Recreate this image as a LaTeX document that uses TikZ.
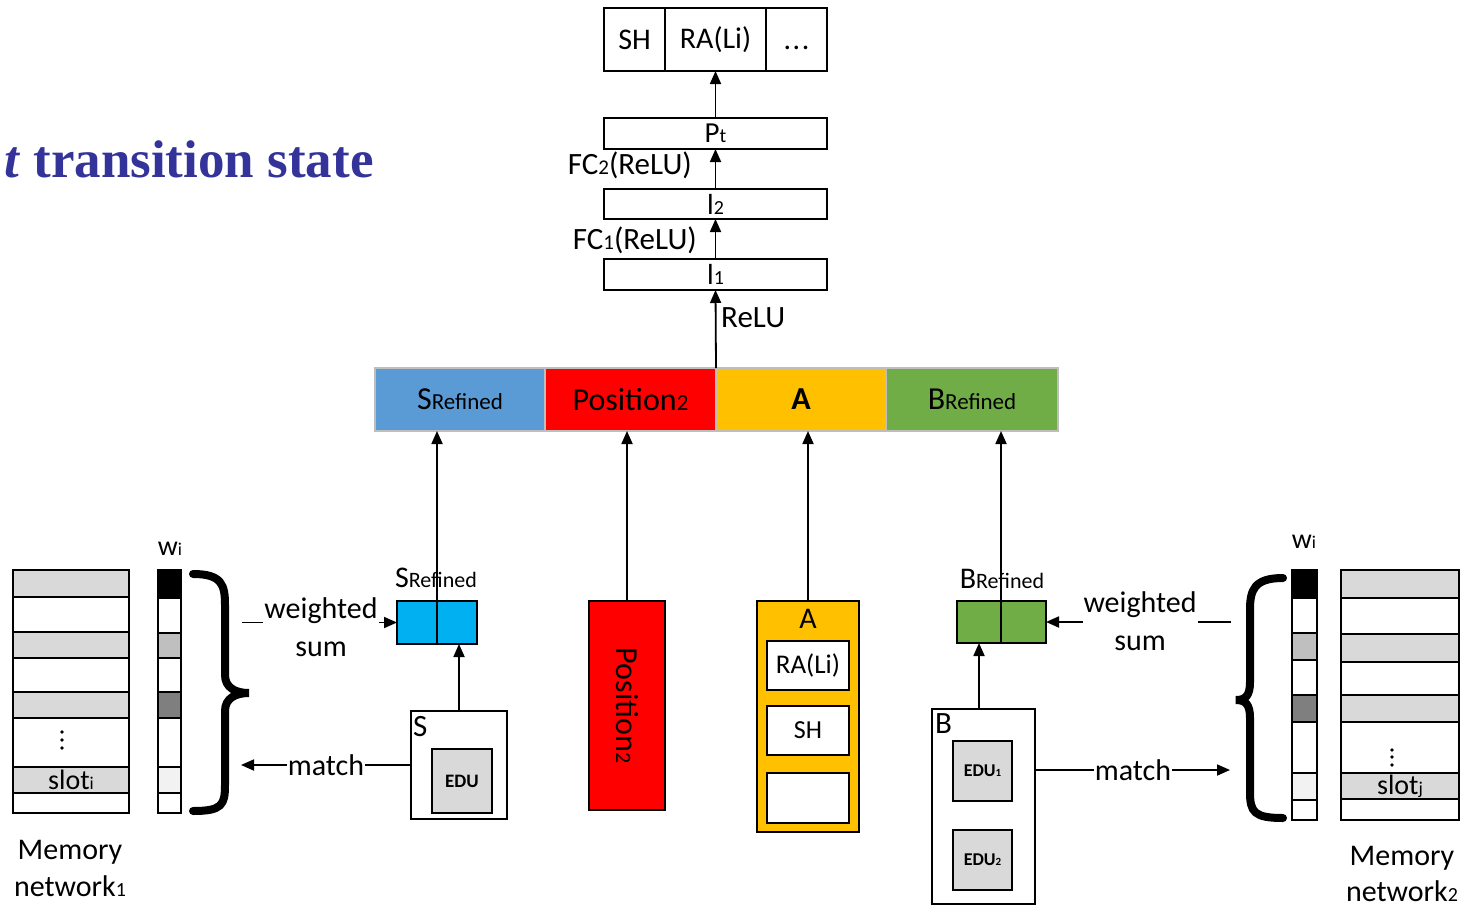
\documentclass[tikz,border=0pt]{standalone}
\usepackage{fontspec}
\setmainfont{Carlito}
\newfontfamily\titlefont{Liberation Serif}
\usetikzlibrary{arrows.meta}

% smaller text set on the same baseline (used for index-like parts of labels)
\newcommand\lowtxt[2][20]{{\fontsize{#1}{#1}\selectfont #2}}

\definecolor{titleblue}{RGB}{51,51,153}
\definecolor{segblue}{RGB}{91,155,213}
\definecolor{segred}{RGB}{255,0,0}
\definecolor{segorange}{RGB}{255,192,0}
\definecolor{seggreen}{RGB}{112,173,71}
\definecolor{cellcyan}{RGB}{0,176,240}
\definecolor{memgray}{RGB}{217,217,217}
\definecolor{wmid}{RGB}{191,191,191}
\definecolor{wdark}{RGB}{127,127,127}
\definecolor{wlight}{RGB}{242,242,242}
\definecolor{barline}{RGB}{190,190,190}

\tikzset{
  fs/.style={font=\fontsize{#1}{#1}\selectfont},
  wh/.style 2 args={minimum width=#1pt, minimum height=#2pt, inner sep=0pt, outer sep=0pt},
  box/.style={draw, line width=1.8pt},
  seg/.style={draw=barline, line width=1.2pt, fs=32},
  cell/.style={draw, line width=1.5pt},
  arr/.style={-{Triangle[length=13pt,width=11pt]}, line width=1.8pt},
  lbl/.style={fs=30, inner sep=1pt},
  brace/.style={line width=8pt, line cap=round, line join=miter},
}

\begin{document}
\begin{tikzpicture}[x=1pt,y=-1pt]
\useasboundingbox (0,0) rectangle (1466,907);

% heading
\node[anchor=base west, text=titleblue, inner sep=0pt,
      font=\titlefont\bfseries\fontsize{53}{53}\selectfont] (title) at (4,177)
      {\textit{t} transition state};

% ---------- output stack ----------
\node[box, wh={61}{63}, fs=30]  (sh)   at (634.5,39.5) {SH};
\node[box, wh={101}{63}, fs=30] (ra)   at (715.5,39.5) {RA(Li)};
\node[box, wh={61}{63}, fs=30]  (more) at (796.5,39.5) {\vphantom{SH}.\kern1.5pt.\kern1.5pt.};

\node[box, wh={223}{31}, fs=29] (pt) at (715.5,133.5) {P\lowtxt{t}};
\node[box, wh={223}{30}, fs=29] (l2) at (715.5,204) {l\lowtxt{2}};
\node[box, wh={223}{31}, fs=29] (l1) at (715.5,274.5) {l\lowtxt{1}};

\draw[arr] (pt.north) -- (ra.south);
\draw[arr] (l2.north) -- (pt.south);
\draw[arr] (l1.north) -- (l2.south);

\node[lbl, anchor=east, fs=31] (fc2) at (693,165) {FC\lowtxt[21]{2}(ReLU)};
\node[lbl, anchor=east, fs=31] (fc1) at (698,240) {FC\lowtxt[21]{1}(ReLU)};
\node[lbl, anchor=west, fs=31] (relu) at (720,318) {ReLU};

% ---------- concatenated state ----------
\node[seg, fill=segblue,   wh={170}{63}] (sref) at (460,399.5) {S\lowtxt[23]{Refined}};
\node[seg, fill=segred,    wh={171}{63}] (posbar) at (630.5,399.5) {Position\lowtxt[23]{2}};
\node[seg, fill=segorange, wh={170}{63}] (abar) at (801,399.5) {\textbf{A}};
\node[seg, fill=seggreen,  wh={172}{63}] (bbar) at (972,399.5) {B\lowtxt[23]{Refined}};

\draw[arr] (posbar.north east) -- (l1.south);

% ---------- S side ----------
\node[box, wh={96}{108}] (sbox) at (459,765) {};
\node[fs=31, anchor=north west, inner sep=0pt] (slbl) at (413,716) {S};
\node[box, fill=memgray, wh={60}{64}, font=\bfseries\fontsize{19}{19}\selectfont] (edu) at (462,781) {EDU};

\node[box, fill=cellcyan, wh={40}{43}] (srefL) at (417,622.5) {};
\node[box, fill=cellcyan, wh={40}{43}] (srefR) at (457,622.5) {};
\node[fs=30, inner sep=0pt] (sreflbl) at (436,578) {S\lowtxt[22]{Refined}};

\draw[arr] (sbox.north) -- (sbox.north |- srefR.south);
\draw[arr] (srefL.north east) -- (srefL.north east |- sref.south);

\coordinate (wsl) at (242,622.5);
\draw[arr] (wsl) -- (srefL.west);
\node[lbl, fill=white, align=center, font=\fontsize{30}{38}\selectfont] (wsumL) at (321,627) {weighted\\sum};

\coordinate (ml) at (241,765);
\draw[arr] (sbox.west) -- (ml);
\node[lbl, fill=white] (matchL) at (326,765) {match};

% ---------- position ----------
\node[box, fill=segred, wh={76}{209}] (pos) at (627,705.5)
  {\rotatebox{-90}{\fontsize{32}{32}\selectfont Position\lowtxt[22]{2}}};
\draw[arr] (pos.north) -- (pos.north |- posbar.south);

% ---------- A ----------
\node[box, fill=segorange, wh={102}{231}] (abox) at (808,716.5) {};
\node[fs=30, inner sep=0pt] (albl) at (808,619) {A};
\node[box, fill=white, wh={82}{49}, fs=27] (ara) at (808,665.5) {RA(Li)};
\node[box, fill=white, wh={82}{49}, fs=26] (ash) at (808,730.5) {SH};
\node[box, fill=white, wh={82}{50}] (aemp) at (808,798) {};
\draw[arr] (abox.north) -- (abox.north |- abar.south);

% ---------- B side ----------
\node[box, wh={103}{195}] (bbox) at (983.5,806.5) {};
\node[fs=31, anchor=north west, inner sep=0pt] (blbl) at (935,713) {B};
\node[box, fill=memgray, wh={59}{60}, font=\bfseries\fontsize{18}{18}\selectfont] (edu1) at (982.5,771) {EDU\lowtxt[11]{1}};
\node[box, fill=memgray, wh={59}{60}, font=\bfseries\fontsize{18}{18}\selectfont] (edu2) at (982.5,860) {EDU\lowtxt[11]{2}};

\node[box, fill=seggreen, wh={44}{42}] (brefL) at (979,622) {};
\node[box, fill=seggreen, wh={45}{42}] (brefR) at (1023.5,622) {};

\coordinate (bup) at (brefL.north east |- bbar.south);
\draw[arr] (brefL.north east) -- (bup);
\node[fs=30, inner sep=0pt] (breflbl) at (1002,579) {B\lowtxt[22]{Refined}};
\draw[arr] (brefL.south |- bbox.north) -- (brefL.south);

\coordinate (wsr) at (1231,622);
\draw[arr] (wsr) -- (brefR.east);
\node[lbl, fill=white, align=center, font=\fontsize{30}{38}\selectfont] (wsumR) at (1140,621) {weighted\\sum};

\coordinate (mr) at (1230,770);
\draw[arr] (bbox.east |- mr) -- (mr);
\node[lbl, fill=white] (matchR) at (1133,770) {match};

% ---------- memory network 1 ----------
\foreach \ya/\yb/\col in {570/597/memgray, 597/632/white, 632/658/memgray, 658/692/white,
                          692/718/memgray, 718/767/white, 767/793/memgray, 793/813/white}
  \draw[cell, fill=\col] (13,\ya) rectangle (129,\yb);
\foreach \yy in {732,740,748} \fill (62,\yy) circle (1.9pt);
\node[fs=28, inner sep=0pt] (sloti) at (71,780) {slot\lowtxt[18]{i}};

\foreach \ya/\yb/\col in {570/598/black, 598/633/white, 633/658/wmid, 658/692/white,
                          692/718/wdark, 718/767/white, 767/793/wlight, 793/813/white}
  \draw[cell, fill=\col] (158,\ya) rectangle (181,\yb);
\node[fs=28, inner sep=0pt] (wL) at (170,549) {w\lowtxt[18]{i}};

\draw[brace] (193,574) .. controls (222,574) and (225,585) .. (225,605) -- (225,675)
   .. controls (225,688) and (236,693) .. (249,693)
   .. controls (236,693) and (225,698) .. (225,711) -- (225,785)
   .. controls (225,805) and (222,811) .. (193,811);

\node[align=center, font=\fontsize{30}{37}\selectfont] (memL) at (70,868) {Memory\\network\lowtxt{1}};

% ---------- memory network 2 ----------
\foreach \ya/\yb/\col in {570/598/memgray, 598/634/white, 634/662/memgray, 662/695/white,
                          695/722/memgray, 722/773/white, 773/799/memgray, 799/820/white}
  \draw[cell, fill=\col] (1341,\ya) rectangle (1459,\yb);
\foreach \yy in {750,757,765} \fill (1392,\yy) circle (1.9pt);
\node[fs=28, inner sep=0pt] (slotj) at (1400,786) {slot\lowtxt[18]{j}};

\foreach \ya/\yb/\col in {570/598/black, 598/633/white, 633/660/wmid, 660/695/white,
                          695/722/wdark, 722/773/white, 773/800/wlight, 800/820/white}
  \draw[cell, fill=\col] (1292,\ya) rectangle (1317,\yb);
\node[fs=28, inner sep=0pt] (wR) at (1304,542) {w\lowtxt[18]{i}};

\draw[brace] (1283,578) .. controls (1254,578) and (1250,590) .. (1250,610) -- (1250,682)
   .. controls (1250,695) and (1246,700) .. (1236,700)
   .. controls (1246,700) and (1250,705) .. (1250,718) -- (1250,792)
   .. controls (1250,812) and (1254,818) .. (1283,818);

\node[align=center, font=\fontsize{30}{36}\selectfont] (memR) at (1402,874) {Memory\\network\lowtxt{2}};
\end{tikzpicture}
\end{document}
